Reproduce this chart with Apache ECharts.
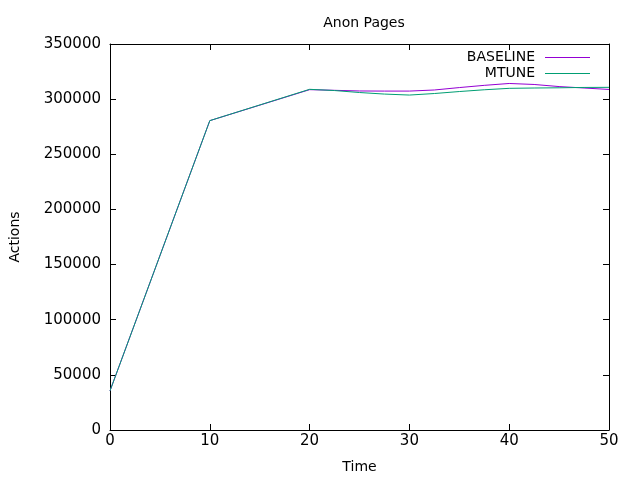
<!DOCTYPE html>
<html>
<head>
<meta charset="utf-8">
<script src="https://cdn.jsdelivr.net/npm/echarts@6/dist/echarts.min.js"></script>
<style>
html,body{margin:0;padding:0;background:#fff;}
#chart{width:640px;height:480px;}
</style>
</head>
<body>
<div id="chart"></div>
<script>
var times = [0, 10, 20, 22.5, 25, 27.5, 30, 32.5, 35, 37.5, 40, 42.5, 45, 47.5, 50];
var baseline = [35500, 280500, 308600, 308000, 307400, 307300, 307300, 308300, 310500, 312500, 314200, 313300, 311400, 310100, 308800];
var mtune = [35500, 280500, 308900, 307800, 306000, 304600, 303700, 305100, 306900, 308500, 309800, 310100, 310300, 310600, 310700];
var xTicks = [0, 10, 20, 30, 40, 50];
var yTicks = [0, 50000, 100000, 150000, 200000, 250000, 300000, 350000];

var font = 'DejaVu Sans';
function pairs(xs, ys) { return xs.map(function (x, i) { return [x, ys[i]]; }); }
function axLine() { return {show: true, onZero: false, lineStyle: {color: '#000', width: 1}}; }
function axTick() { return {show: true, inside: true, length: 6, lineStyle: {color: '#000', width: 1}}; }

var chart = echarts.init(document.getElementById('chart'), null, {renderer: 'canvas'});
chart.setOption({
  animation: false,
  backgroundColor: '#fff',
  title: {
    text: 'Anon Pages', left: 359, top: 11, textAlign: 'center',
    textStyle: {fontFamily: font, fontSize: 14, fontWeight: 'normal', color: '#000'}
  },
  legend: {
    orient: 'vertical', right: 45, top: 44.5, align: 'right',
    icon: 'rect', itemWidth: 45, itemHeight: 1, itemGap: 0,
    textStyle: {fontFamily: font, fontSize: 14, color: '#000', lineHeight: 16, padding: [0, 5, 0, 0]},
    data: ['BASELINE', 'MTUNE']
  },
  grid: {left: 110, right: 31, top: 44, bottom: 50, containLabel: false, outerBoundsMode: 'none'},
  xAxis: [{
    type: 'value', min: xTicks[0], max: xTicks[xTicks.length - 1], interval: 10,
    name: 'Time', nameLocation: 'middle', nameGap: 30,
    nameTextStyle: {fontFamily: font, fontSize: 14, color: '#000'},
    axisLine: axLine(), axisTick: axTick(), splitLine: {show: false},
    axisLabel: {fontFamily: font, fontSize: 15, color: '#000', margin: 4}
  }, {
    type: 'value', position: 'top', min: 0, max: 50, interval: 10,
    axisLine: axLine(), axisTick: axTick(), splitLine: {show: false}, axisLabel: {show: false}
  }],
  yAxis: [{
    type: 'value', min: yTicks[0], max: yTicks[yTicks.length - 1], interval: 50000,
    name: 'Actions', nameLocation: 'middle', nameGap: 88, nameRotate: 90,
    nameTextStyle: {fontFamily: font, fontSize: 14, color: '#000'},
    axisLine: axLine(), axisTick: axTick(), splitLine: {show: false},
    axisLabel: {fontFamily: font, fontSize: 15, color: '#000', margin: 9,
      formatter: function (v) { return String(v); }}
  }, {
    type: 'value', position: 'right', min: 0, max: 350000, interval: 50000,
    axisLine: axLine(), axisTick: axTick(), splitLine: {show: false}, axisLabel: {show: false}
  }],
  series: [{
    name: 'BASELINE', type: 'line', data: pairs(times, baseline),
    showSymbol: false, symbol: 'none', color: '#9400D3',
    lineStyle: {width: 1, color: '#9400D3'}
  }, {
    name: 'MTUNE', type: 'line', data: pairs(times, mtune),
    showSymbol: false, symbol: 'none', color: '#009E73',
    lineStyle: {width: 1, color: '#009E73'}
  }]
});
</script>
</body>
</html>
